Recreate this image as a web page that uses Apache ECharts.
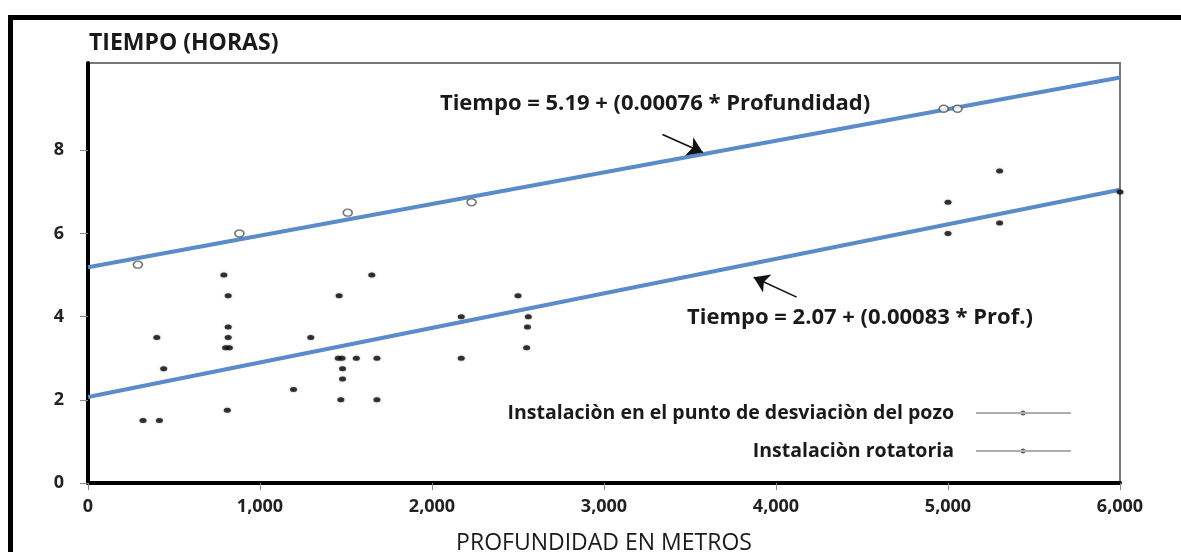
<!DOCTYPE html>
<html>
<head>
<meta charset="utf-8">
<script src="https://cdn.jsdelivr.net/npm/echarts@6/dist/echarts.min.js"></script>
<style>
  html, body { margin: 0; padding: 0; background: #fff; }
  #chart { width: 1181px; height: 552px; }
</style>
</head>
<body>
<div id="chart"></div>
<script>
// Wells drilled from the kick-off point (open circles): [depth m, hours]
const puntoDesviacion = [
  [290, 5.25], [880, 6.0], [1510, 6.5], [2230, 6.75], [4975, 9.0], [5055, 9.0]
];

// Rotary installation (filled dots): [depth m, hours]
const rotatoria = [
  [320, 1.5], [415, 1.5], [400, 3.5], [440, 2.75],
  [790, 5.0], [815, 4.5], [815, 3.75], [815, 3.5], [800, 3.25], [822, 3.25], [810, 1.75],
  [1195, 2.25], [1295, 3.5],
  [1460, 4.5], [1455, 3.0], [1477, 3.0], [1480, 2.75], [1480, 2.5], [1470, 2.0],
  [1560, 3.0], [1650, 5.0], [1680, 3.0], [1680, 2.0],
  [2170, 4.0], [2170, 3.0], [2500, 4.5], [2560, 4.0], [2555, 3.75], [2550, 3.25],
  [5000, 6.75], [5000, 6.0], [5300, 7.5], [5300, 6.25], [6000, 7.0]
];

// Fitted lines: Tiempo = a + b * Profundidad
const ajusteDesviacion = { a: 5.19, b: 0.00076 };
const ajusteRotatoria = { a: 2.07, b: 0.00083 };
const xRange = [0, 6000];

const etiquetaDesviacion = 'Tiempo = 5.19 + (0.00076 * Profundidad)';
const etiquetaRotatoria = 'Tiempo = 2.07 + (0.00083 * Prof.)';

// Label anchors and arrow ends, in data units
const posEtiquetaDesv = [3297, 9.13];
const posEtiquetaRot = [4488, 3.98];
const flechaDesv = [[3340, 8.38], [3575, 7.95]];
const flechaRot = [[4120, 4.47], [3870, 4.95]];

const xTicks = [0, 1000, 2000, 3000, 4000, 5000, 6000];
const yTicks = [0, 2, 4, 6, 8];

const FONT = '"Open Sans"';
const INK = '#1a1a1a';

function lineFrom(fit) {
  return xRange.map(x => [x, fit.a + fit.b * x]);
}

function arrowLine(ends) {
  return {
    silent: true,
    symbol: ['none', 'arrow'],
    symbolSize: 15,
    lineStyle: { color: '#111', width: 1.6, type: 'solid' },
    label: { show: false },
    data: [[{ coord: ends[0] }, { coord: ends[1] }]]
  };
}

function equationLabel(text, pos) {
  return {
    silent: true,
    symbol: 'circle',
    symbolSize: 1,
    itemStyle: { color: 'transparent' },
    label: {
      show: true, position: 'inside',
      fontFamily: FONT, fontWeight: 'bold', fontSize: 22, color: INK,
      formatter: () => text
    },
    data: [{ coord: pos }]
  };
}

const chart = echarts.init(document.getElementById('chart'));

const legendIcon = 'path://M0,3.4 L95,3.4 L95,4.6 L0,4.6 Z M44.5,4 A2.5,2.5 0 1 0 49.5,4 A2.5,2.5 0 1 0 44.5,4 Z';

chart.setOption({
  animation: false,
  backgroundColor: '#fff',
  title: {
    text: 'TIEMPO (HORAS)',
    left: 84,
    top: 27,
    textStyle: { fontFamily: FONT, fontWeight: 'bold', fontSize: 23, color: INK }
  },
  grid: {
    left: 88, right: 61, top: 63, bottom: 69,
    outerBoundsMode: 'none',
    show: true, borderColor: '#777', borderWidth: 2, backgroundColor: 'transparent'
  },
  legend: {
    orient: 'vertical',
    right: 105,
    top: 398,
    align: 'right',
    itemGap: 18,
    itemWidth: 95,
    itemHeight: 8,
    textStyle: { fontFamily: FONT, fontWeight: 'bold', fontSize: 19.5, color: INK, padding: [0, 17, 0, 0] },
    data: [
      { name: 'Instalaciòn en el punto de desviaciòn del pozo', icon: legendIcon, itemStyle: { color: '#333', borderWidth: 0 } },
      { name: 'Instalaciòn rotatoria', icon: legendIcon, itemStyle: { color: '#333', borderWidth: 0 } }
    ]
  },
  xAxis: {
    type: 'value',
    min: 0, max: 6000, interval: 1000,
    name: 'PROFUNDIDAD EN METROS',
    nameLocation: 'middle',
    nameGap: 49,
    nameTextStyle: { fontFamily: FONT, fontSize: 23, color: INK },
    axisLine: { show: true, onZero: false, lineStyle: { color: '#000', width: 4 } },
    axisTick: { show: true, length: 7, lineStyle: { color: '#888', width: 1 }, customValues: xTicks },
    axisLabel: {
      fontFamily: FONT, fontWeight: 'bold', fontSize: 18, color: '#222', margin: 15,
      customValues: xTicks,
      formatter: v => v.toLocaleString('en-US')
    },
    splitLine: { show: false }
  },
  yAxis: {
    type: 'value',
    min: 0, max: 10.1,
    axisLine: { show: true, onZero: false, lineStyle: { color: '#000', width: 4 } },
    axisTick: { show: true, length: 8, lineStyle: { color: '#888', width: 1 }, customValues: yTicks },
    axisLabel: {
      fontFamily: FONT, fontWeight: 'bold', fontSize: 18, color: '#222', margin: 24,
      customValues: yTicks
    },
    splitLine: { show: false }
  },
  series: [
    {
      name: 'ajuste desviación',
      type: 'line',
      data: lineFrom(ajusteDesviacion),
      symbol: 'none',
      lineStyle: { color: '#5b8bc9', width: 4 },
      z: 3,
      markLine: arrowLine(flechaDesv),
      markPoint: equationLabel(etiquetaDesviacion, posEtiquetaDesv)
    },
    {
      name: 'ajuste rotatoria',
      type: 'line',
      data: lineFrom(ajusteRotatoria),
      symbol: 'none',
      lineStyle: { color: '#5b8bc9', width: 4 },
      z: 3,
      markLine: arrowLine(flechaRot),
      markPoint: equationLabel(etiquetaRotatoria, posEtiquetaRot)
    },
    {
      name: 'Instalaciòn en el punto de desviaciòn del pozo',
      type: 'scatter',
      data: puntoDesviacion,
      symbol: 'circle',
      symbolSize: [9, 7],
      itemStyle: { color: '#fff', borderColor: '#555', borderWidth: 1.5 },
      z: 4
    },
    {
      name: 'Instalaciòn rotatoria',
      type: 'scatter',
      data: rotatoria,
      symbol: 'circle',
      symbolSize: [7, 5],
      itemStyle: { color: '#111', shadowBlur: 2, shadowColor: 'rgba(0,0,0,0.5)' },
      z: 4
    }
  ],
  graphic: [
    { type: 'rect', shape: { x: 8, y: 15, width: 1173, height: 5 }, style: { fill: '#000' }, silent: true },
    { type: 'rect', shape: { x: 8, y: 15, width: 5, height: 537 }, style: { fill: '#000' }, silent: true }
  ]
});
</script>
</body>
</html>
